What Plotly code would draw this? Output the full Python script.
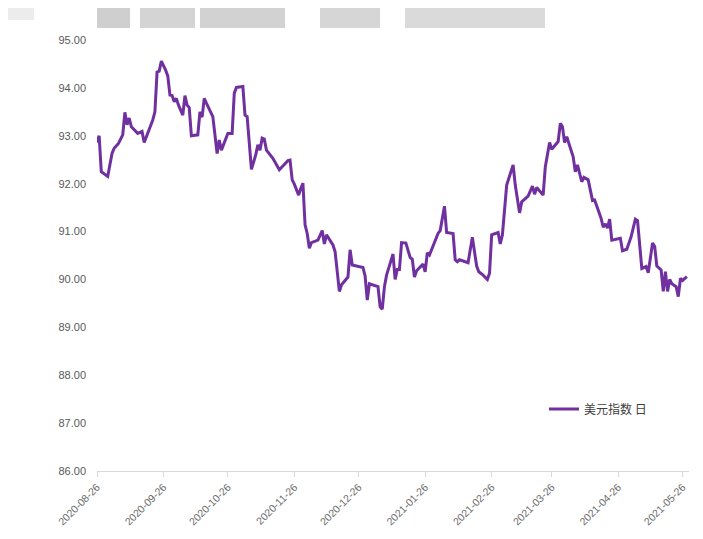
import plotly.graph_objects as go

dates = [
    "2020-08-26", "2020-08-27", "2020-08-28", "2020-08-31", "2020-09-02", "2020-09-03", "2020-09-05",
    "2020-09-07", "2020-09-08", "2020-09-09", "2020-09-10", "2020-09-11", "2020-09-14", "2020-09-16",
    "2020-09-17", "2020-09-19", "2020-09-21", "2020-09-22", "2020-09-23", "2020-09-24", "2020-09-25",
    "2020-09-27", "2020-09-28", "2020-09-29", "2020-09-30", "2020-10-01", "2020-10-02", "2020-10-03",
    "2020-10-05", "2020-10-06", "2020-10-07", "2020-10-08", "2020-10-09", "2020-10-12", "2020-10-13",
    "2020-10-14", "2020-10-15", "2020-10-16", "2020-10-19", "2020-10-21", "2020-10-22", "2020-10-23",
    "2020-10-25", "2020-10-26", "2020-10-28", "2020-10-29", "2020-10-30", "2020-11-02", "2020-11-03",
    "2020-11-04", "2020-11-06", "2020-11-08", "2020-11-09", "2020-11-10", "2020-11-11", "2020-11-12",
    "2020-11-13", "2020-11-16", "2020-11-19", "2020-11-23", "2020-11-24", "2020-11-25", "2020-11-26",
    "2020-11-28", "2020-11-29", "2020-11-30", "2020-12-01", "2020-12-02", "2020-12-03", "2020-12-04",
    "2020-12-07", "2020-12-09", "2020-12-10", "2020-12-11", "2020-12-14", "2020-12-15", "2020-12-17",
    "2020-12-18", "2020-12-21", "2020-12-22", "2020-12-23", "2020-12-25", "2020-12-28", "2020-12-29",
    "2020-12-30", "2020-12-31", "2021-01-04", "2021-01-05", "2021-01-06", "2021-01-07", "2021-01-08",
    "2021-01-11", "2021-01-12", "2021-01-13", "2021-01-14", "2021-01-15", "2021-01-17", "2021-01-19",
    "2021-01-20", "2021-01-21", "2021-01-22", "2021-01-25", "2021-01-26", "2021-01-27", "2021-01-28",
    "2021-02-01", "2021-02-02", "2021-02-04", "2021-02-05", "2021-02-08", "2021-02-09", "2021-02-10",
    "2021-02-11", "2021-02-15", "2021-02-17", "2021-02-19", "2021-02-20", "2021-02-22", "2021-02-24",
    "2021-02-25", "2021-02-26", "2021-03-01", "2021-03-02", "2021-03-03", "2021-03-05", "2021-03-08",
    "2021-03-09", "2021-03-11", "2021-03-12", "2021-03-15", "2021-03-17", "2021-03-18", "2021-03-19",
    "2021-03-22", "2021-03-23", "2021-03-25", "2021-03-26", "2021-03-29", "2021-03-30", "2021-03-31",
    "2021-04-01", "2021-04-02", "2021-04-05", "2021-04-06", "2021-04-07", "2021-04-09", "2021-04-10",
    "2021-04-12", "2021-04-14", "2021-04-15", "2021-04-18", "2021-04-19", "2021-04-20", "2021-04-21",
    "2021-04-22", "2021-04-23", "2021-04-27", "2021-04-28", "2021-04-30", "2021-05-02", "2021-05-04",
    "2021-05-05", "2021-05-07", "2021-05-09", "2021-05-10", "2021-05-12", "2021-05-13", "2021-05-14",
    "2021-05-16", "2021-05-17", "2021-05-18", "2021-05-19", "2021-05-20", "2021-05-21", "2021-05-23",
    "2021-05-24", "2021-05-25", "2021-05-26", "2021-05-28",
]

usd_index = [
    92.86, 93.00, 92.25, 92.15, 92.63, 92.74, 92.84,
    93.02, 93.49, 93.23, 93.37, 93.19, 93.05, 93.09,
    92.86, 93.09, 93.33, 93.50, 94.33, 94.35, 94.56,
    94.37, 94.25, 93.85, 93.84, 93.71, 93.78, 93.64,
    93.43, 93.84, 93.64, 93.59, 93.00, 93.02, 93.50,
    93.39, 93.78, 93.68, 93.40, 92.63, 92.91, 92.70,
    92.91, 93.05, 93.05, 93.89, 94.01, 94.03, 93.43,
    93.40, 92.30, 92.60, 92.81, 92.70, 92.95, 92.93,
    92.70, 92.53, 92.29, 92.48, 92.49, 92.08, 91.99,
    91.76, 91.90, 92.01, 91.14, 90.96, 90.65, 90.77,
    90.82, 91.02, 90.74, 90.93, 90.72, 90.58, 89.75,
    89.89, 90.05, 90.62, 90.30, 90.28, 90.25, 90.07,
    89.57, 89.91, 89.85, 89.43, 89.38, 89.85, 90.09,
    90.53, 90.00, 90.21, 90.21, 90.77, 90.76, 90.46,
    90.42, 90.05, 90.18, 90.32, 90.16, 90.56, 90.51,
    90.96, 91.02, 91.53, 90.98, 90.96, 90.41, 90.37,
    90.41, 90.35, 90.88, 90.28, 90.16, 90.09, 90.00,
    90.13, 90.93, 90.98, 90.74, 90.93, 91.97, 92.39,
    91.97, 91.39, 91.62, 91.74, 91.95, 91.78, 91.92,
    91.76, 92.35, 92.86, 92.72, 92.88, 93.26, 93.19,
    92.86, 92.98, 92.56, 92.25, 92.39, 92.04, 92.13,
    92.08, 91.65, 91.66, 91.28, 91.09, 91.16, 91.07,
    91.26, 90.82, 90.86, 90.60, 90.63, 90.89, 91.26,
    91.23, 90.23, 90.27, 90.14, 90.76, 90.69, 90.28,
    90.20, 89.75, 90.16, 89.75, 90.00, 89.91, 89.85,
    89.64, 90.02, 89.98, 90.06,
]

tick_dates = ["2020-08-26", "2020-09-26", "2020-10-26", "2020-11-26", "2020-12-26",
              "2021-01-26", "2021-02-26", "2021-03-26", "2021-04-26", "2021-05-26"]
y_ticks = [86, 87, 88, 89, 90, 91, 92, 93, 94, 95]

series_name = "美元指数 日"

fig = go.Figure()
fig.add_trace(go.Scatter(
    x=dates, y=usd_index, mode="lines", name=series_name,
    line=dict(color="#7030A0", width=3),
))

# faint watermark blocks at the top (background decoration); page px -> paper
PL, PR, PT, PB = 97, 689, 40, 471
wm = [(0, 34, 0, 20, "#ececec"), (97, 130, 0, 28, "#cfcfcf"), (140, 195, 0, 28, "#d4d4d4"),
      (200, 285, 0, 28, "#d2d2d2"), (320, 380, 0, 28, "#d6d6d6"), (405, 545, 0, 28, "#dadada")]
shapes = []
for x0, x1, y0, y1, c in wm:
    shapes.append(dict(type="rect", xref="paper", yref="paper",
                       x0=(x0 - PL) / (PR - PL), x1=(x1 - PL) / (PR - PL),
                       y0=(PB - y1) / (PB - PT), y1=(PB - y0) / (PB - PT),
                       fillcolor=c, line=dict(width=0), layer="below"))

fig.update_layout(
    width=703, height=539,
    margin=dict(l=89, r=22, t=32, b=76, autoexpand=False),
    paper_bgcolor="white", plot_bgcolor="white",
    font=dict(family="Liberation Sans, Arial, sans-serif", size=11, color="#595959"),
    showlegend=True,
    legend=dict(x=0.755, y=0.144, xanchor="left", yanchor="middle",
                bgcolor="rgba(0,0,0,0)", font=dict(size=12, color="#404040",
                family="Noto Sans CJK SC, sans-serif")),
    shapes=shapes,
)
fig.update_xaxes(
    type="date", range=["2020-08-26", "2021-05-29"], automargin=False,
    tickmode="array", tickvals=tick_dates, ticktext=tick_dates,
    tickangle=-45, showgrid=False, zeroline=False,
    showline=True, linecolor="#d9d9d9", linewidth=1,
    ticks="outside", ticklen=5, tickcolor="#d9d9d9",
    tickfont=dict(size=10.5, color="#6b6b6b"),
)
fig.update_yaxes(
    range=[86, 95], tickmode="array", tickvals=y_ticks, automargin=False,
    ticktext=[f"{v:.2f}" for v in y_ticks],
    showgrid=False, zeroline=False, showline=False,
    tickfont=dict(size=11, color="#595959"), ticks="", ticklabelstandoff=10,
)

fig.write_html("out.html")
